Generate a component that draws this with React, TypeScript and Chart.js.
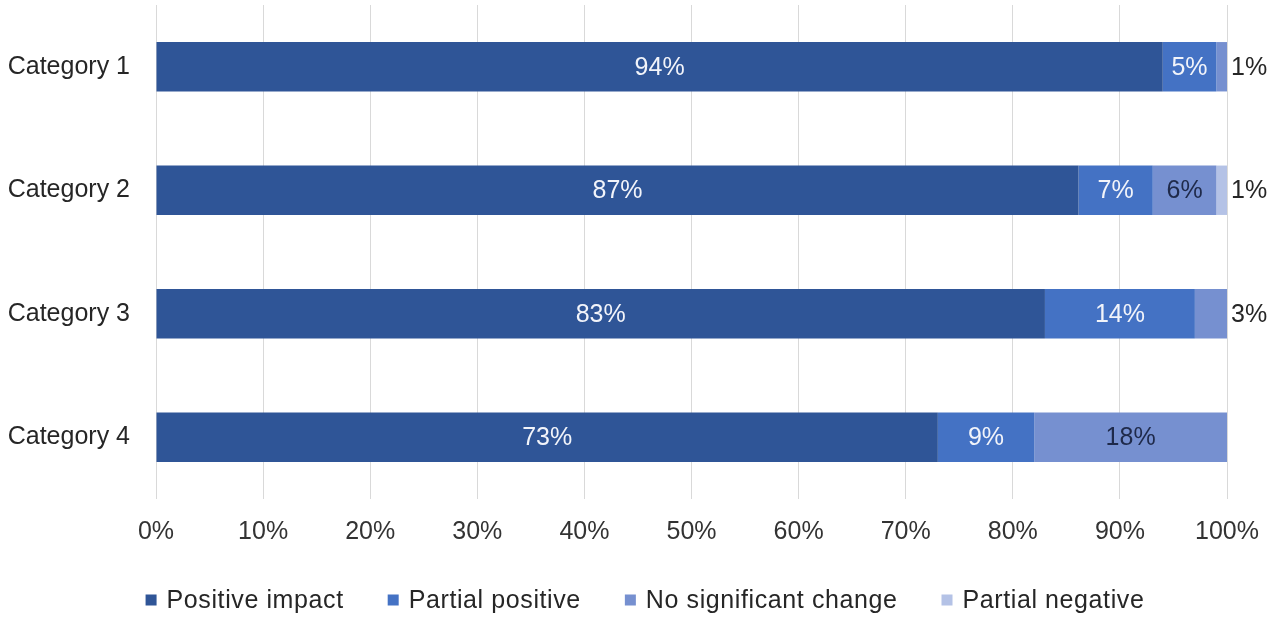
import React, { useEffect, useRef } from "react";
import { Chart, registerables } from "chart.js";

Chart.register(...registerables);

// Categories and the share of responses (in %) for each outcome
const categories = ["Category 1", "Category 2", "Category 3", "Category 4"];
const seriesNames = ["Positive impact", "Partial positive", "No significant change", "Partial negative"];
const positiveImpact = [94, 87, 83, 73];
const partialPositive = [5, 7, 14, 9];
const noSignificantChange = [1, 6, 3, 18];
const partialNegative = [0, 1, 0, 0];
const xTickLabels = ["0%", "10%", "20%", "30%", "40%", "50%", "60%", "70%", "80%", "90%", "100%"];

const seriesValues = [positiveImpact, partialPositive, noSignificantChange, partialNegative];
const seriesColors = ["#2f5597", "#4472c4", "#7690d0", "#b4c2e6"];
const insideLabelColors = ["#f2f4fa", "#f2f4fa", "#1f2a4a", "#1f2a4a"];

const FONT = "'Liberation Sans', Arial, sans-serif";
const FONT_SIZE = 25;

// Each category is drawn as a 100% stacked bar
const totals = categories.map((_, i) => seriesValues.reduce((s, arr) => s + arr[i], 0));

// Value labels: centred inside a segment when they fit, otherwise just right of the bar
const segmentLabels = {
  id: "segmentLabels",
  afterDatasetsDraw(chart: any) {
    const ctx = chart.ctx as CanvasRenderingContext2D;
    ctx.save();
    ctx.font = `${FONT_SIZE}px ${FONT}`;
    ctx.textBaseline = "middle";
    chart.data.datasets.forEach((ds: any, di: number) => {
      const meta = chart.getDatasetMeta(di);
      meta.data.forEach((bar: any, i: number) => {
        const value = ds.rawValues[i];
        if (!value) return;
        const { x, base, y } = bar.getProps(["x", "base", "y"], true);
        const text = `${value}%`;
        const tw = ctx.measureText(text).width;
        const w = Math.abs(x - base);
        if (tw + 8 < w) {
          ctx.fillStyle = insideLabelColors[di];
          ctx.textAlign = "center";
          ctx.fillText(text, (x + base) / 2, y + 1);
        } else {
          ctx.fillStyle = "#262626";
          ctx.textAlign = "left";
          ctx.fillText(text, chart.chartArea.right + 4, y + 1);
        }
      });
    });
    ctx.restore();
  },
};

// Legend row with square swatches, laid out along the bottom
const bottomLegend = {
  id: "bottomLegend",
  afterDraw(chart: any) {
    const ctx = chart.ctx as CanvasRenderingContext2D;
    const box = 11;
    const gap = 10;
    const spacing = 44;
    ctx.save();
    ctx.font = `${FONT_SIZE}px ${FONT}`;
    (ctx as any).letterSpacing = "0.6px";
    ctx.textBaseline = "middle";
    ctx.textAlign = "left";
    const items = chart.data.datasets.map((ds: any) => ({
      label: ds.label as string,
      color: ds.backgroundColor as string,
      w: box + gap + ctx.measureText(ds.label).width,
    }));
    const total = items.reduce((s: number, it: any) => s + it.w, 0) + spacing * (items.length - 1);
    let cx = (chart.width - total) / 2 + 8;
    const cy = chart.height - 17;
    items.forEach((it: any) => {
      ctx.fillStyle = it.color;
      ctx.fillRect(cx, cy - box / 2, box, box);
      ctx.fillStyle = "#262626";
      ctx.fillText(it.label, cx + box + gap, cy + 1);
      cx += it.w + spacing;
    });
    ctx.restore();
  },
};

export default function App() {
  const canvasRef = useRef<HTMLCanvasElement | null>(null);

  useEffect(() => {
    if (!canvasRef.current) return;
    const chart = new Chart(canvasRef.current, {
      type: "bar",
      data: {
        labels: categories,
        datasets: seriesNames.map((name, di) => ({
          label: name,
          data: seriesValues[di].map((v, i) => (v / totals[i]) * 100),
          rawValues: seriesValues[di],
          backgroundColor: seriesColors[di],
          borderWidth: 0,
          barPercentage: 0.4,
          categoryPercentage: 1,
        })) as any,
      },
      options: {
        indexAxis: "y",
        animation: false,
        responsive: false,
        layout: { padding: { top: 5, right: 47, bottom: 68, left: 0 } },
        scales: {
          x: {
            stacked: true,
            min: 0,
            max: 100,
            grid: { color: "#d9d9d9", lineWidth: 1, drawTicks: false },
            border: { display: false },
            ticks: {
              stepSize: 10,
              padding: 18,
              color: "#333333",
              font: { family: FONT, size: FONT_SIZE },
              callback: (_v: any, idx: number) => xTickLabels[idx],
            },
            afterFit: (scale: any) => {
              scale.height = 50;
              scale.paddingLeft = 0;
              scale.paddingRight = 0;
            },
          },
          y: {
            stacked: true,
            grid: { display: false, drawTicks: false },
            border: { display: false },
            ticks: {
              padding: 26,
              color: "#262626",
              font: { family: FONT, size: FONT_SIZE },
            },
            afterFit: (scale: any) => {
              scale.width = 156;
              scale.paddingTop = 0;
              scale.paddingBottom = 0;
            },
          },
        },
        plugins: {
          legend: { display: false },
          tooltip: { enabled: false },
        },
      },
      plugins: [segmentLabels, bottomLegend],
    });
    return () => chart.destroy();
  }, []);

  return (
    <div style={{ position: "fixed", left: 0, top: 0, width: 1274, height: 617, background: "#ffffff" }}>
      <canvas ref={canvasRef} width={1274} height={617} />
    </div>
  );
}
